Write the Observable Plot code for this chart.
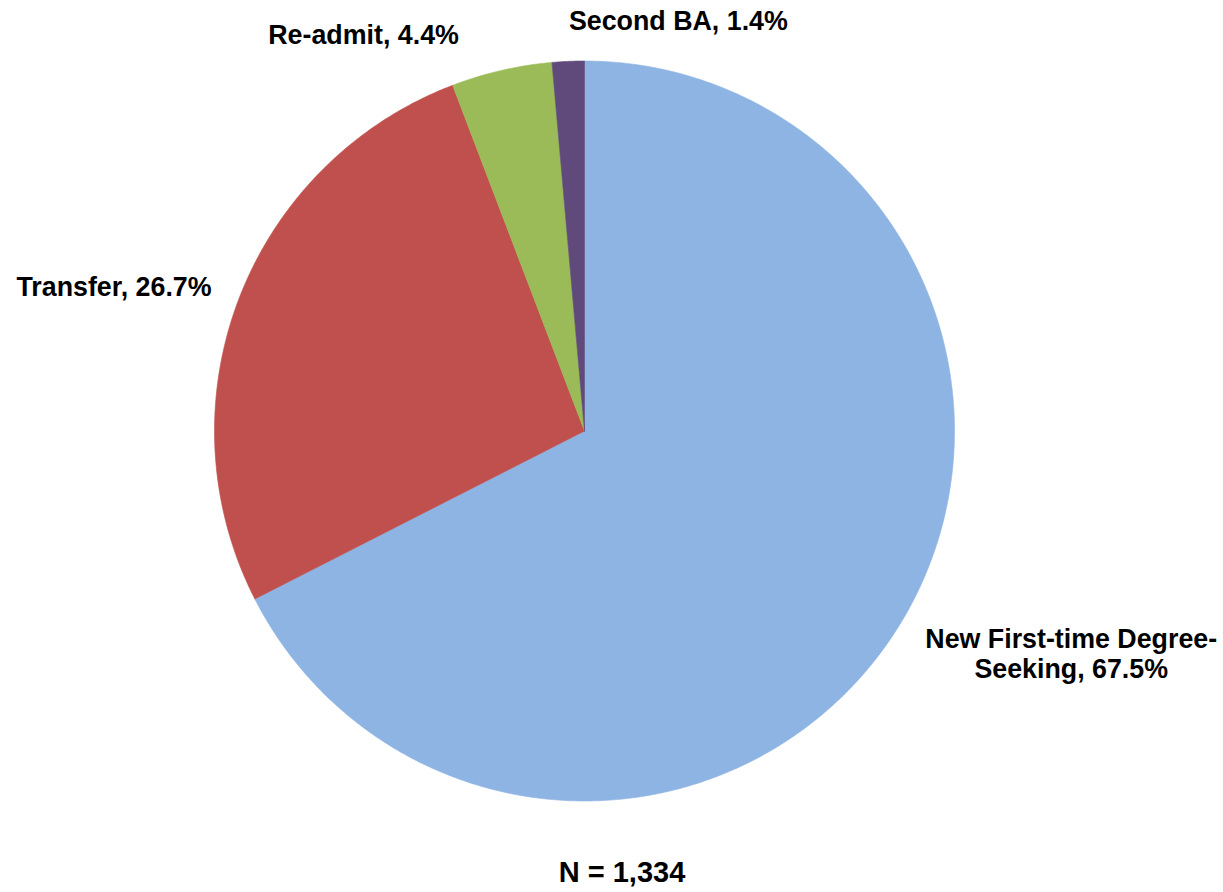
<!DOCTYPE html>
<html>
<head>
<meta charset="utf-8">
<script src="https://cdn.jsdelivr.net/npm/d3@7"></script>
<script src="https://cdn.jsdelivr.net/npm/@observablehq/plot@0.6"></script>
<style>
  html, body { margin: 0; padding: 0; background: #fff; }
  svg { display: block; }
</style>
</head>
<body>
<div id="chart"></div>
<script>
// ---- data ----
const categories = ["New First-time Degree-Seeking", "Transfer", "Re-admit", "Second BA"];
const labelTexts = ["New First-time Degree-\nSeeking", "Transfer", "Re-admit", "Second BA"];
const percents = [67.5, 26.7, 4.4, 1.4];
const colors = ["#8EB4E3", "#C0504D", "#9BBB59", "#604A7B"];
const totalN = "N = 1,334";

// ---- layout (label placement) ----
const labelLayout = [
  {anchor: "middle", dx: 146, dy: 14},
  {anchor: "end", dx: 0, dy: -1},
  {anchor: "end", dx: -36, dy: -7},
  {anchor: "start", dx: 2, dy: -11}
];

const W = 1223, H = 892, cx = 584, cy = 430.5, R = 370;

// Build slice polygons (unit radius, angle clockwise from 12 o'clock)
const total = d3.sum(percents);
let acc = 0;
const slices = categories.map((c, i) => {
  const a0 = acc / total * 2 * Math.PI;
  acc += percents[i];
  const a1 = acc / total * 2 * Math.PI;
  return {cat: c, a0, a1, i};
});
const pts = [];
for (const s of slices) {
  const n = Math.max(2, Math.ceil((s.a1 - s.a0) / (Math.PI / 360)));
  pts.push({cat: s.cat, x: 0, y: 0});
  for (let k = 0; k <= n; k++) {
    const a = s.a0 + (s.a1 - s.a0) * k / n;
    pts.push({cat: s.cat, x: Math.sin(a), y: Math.cos(a)});
  }
  pts.push({cat: s.cat, x: 0, y: 0});
}
const labels = slices.map(s => {
  const m = (s.a0 + s.a1) / 2;
  return {
    text: `${labelTexts[s.i]}, ${percents[s.i].toFixed(1)}%`,
    x: 1.08 * Math.sin(m), y: 1.08 * Math.cos(m), ...labelLayout[s.i]
  };
});

const font = "'Liberation Sans', Arial, Helvetica, sans-serif";
const chart = Plot.plot({
  width: W, height: H,
  margin: 0,
  style: {fontFamily: font, background: "#fff"},
  x: {domain: [-cx / R, (W - cx) / R], axis: null},
  y: {domain: [-(H - cy) / R, cy / R], axis: null},
  color: {domain: categories, range: colors},
  marks: [
    Plot.line(pts, {x: "x", y: "y", z: "cat", fill: "cat", stroke: "cat", strokeWidth: 0.6, curve: "linear"}),
    ...labels.map(l => Plot.text([l], {
      x: "x", y: "y", text: "text", textAnchor: l.anchor, dx: l.dx, dy: l.dy,
      lineAnchor: "middle", lineHeight: 1.1,
      fontSize: 26.8, fontWeight: "bold", fill: "#000"
    })),
    Plot.text([totalN], {
      frameAnchor: "bottom", text: d => d, dx: 10, dy: -19.5, lineAnchor: "middle",
      fontSize: 29, fontWeight: "bold", fill: "#000"
    })
  ]
});
document.getElementById("chart").appendChild(chart);
</script>
</body>
</html>
